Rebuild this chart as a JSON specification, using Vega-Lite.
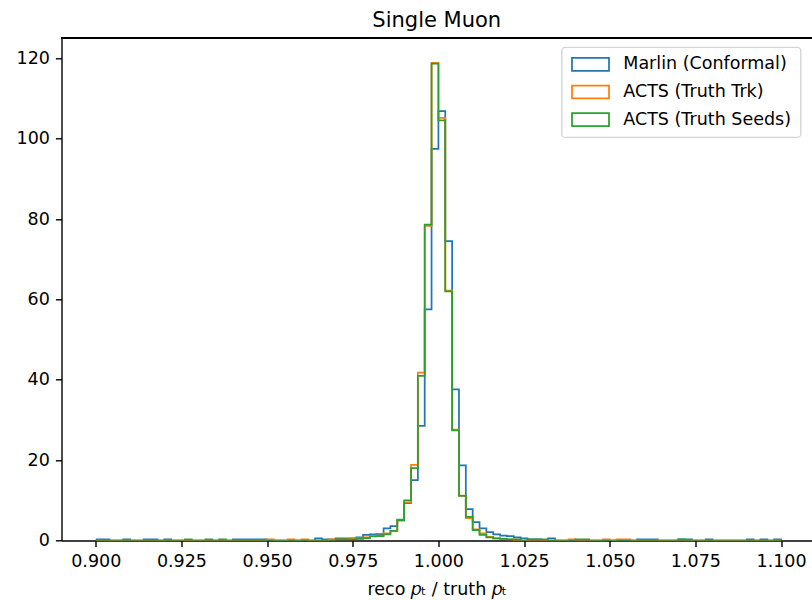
{
  "$schema": "https://vega.github.io/schema/vega-lite/v6.json",
  "width": 750.5,
  "height": 502.2,
  "autosize": {"type": "none"},
  "padding": {"left": 61.5, "top": 38.3, "right": 0, "bottom": 59.5},
  "background": "white",
  "title": {"text": "Single Muon", "font": "DejaVu Sans", "fontSize": 21, "fontWeight": "normal", "color": "black", "anchor": "middle", "baseline": "top", "offset": 7},
  "config": {
    "view": {"stroke": null},
    "axis": {"domainColor": "black", "domainWidth": 1.4, "tickColor": "black", "tickWidth": 1.4, "tickSize": 6.1, "labelFont": "DejaVu Sans", "labelFontSize": 17.5, "labelColor": "black", "titleFont": "DejaVu Sans", "titleFontSize": 17.5, "titleFontWeight": "normal", "titleColor": "black", "grid": false, "zindex": 1, "labelFlush": false, "labelOverlap": false},
    "legend": {"orient": "none", "legendX": 500.2, "legendY": 9, "title": null, "labelFont": "DejaVu Sans", "labelFontSize": 17.5, "labelColor": "black", "labelLimit": 400, "symbolType": "M-1,-0.35H1V0.35H-1Z", "symbolSize": 1369, "symbolStrokeWidth": 1.75, "symbolFillColor": "white", "padding": 9, "clipHeight": 16, "rowPadding": 9.7, "labelOffset": 13.3, "symbolOffset": 0.3, "strokeColor": "#d6d6d6", "strokeWidth": 1.4, "fillColor": "white", "cornerRadius": 3.5}
  },
  "data": {"values": [
    {"x": 0.900, "m": 0.25, "t": 0, "s": 0},
    {"x": 0.902, "m": 0.25, "t": 0, "s": 0},
    {"x": 0.904, "m": 0, "t": 0, "s": 0},
    {"x": 0.906, "m": 0, "t": 0, "s": 0},
    {"x": 0.908, "m": 0.25, "t": 0, "s": 0},
    {"x": 0.910, "m": 0, "t": 0, "s": 0},
    {"x": 0.912, "m": 0, "t": 0, "s": 0},
    {"x": 0.914, "m": 0.25, "t": 0, "s": 0},
    {"x": 0.916, "m": 0.25, "t": 0, "s": 0},
    {"x": 0.918, "m": 0, "t": 0, "s": 0},
    {"x": 0.920, "m": 0.25, "t": 0, "s": 0},
    {"x": 0.922, "m": 0, "t": 0, "s": 0},
    {"x": 0.924, "m": 0, "t": 0, "s": 0},
    {"x": 0.926, "m": 0, "t": 0, "s": 0.25},
    {"x": 0.928, "m": 0, "t": 0, "s": 0},
    {"x": 0.930, "m": 0, "t": 0, "s": 0},
    {"x": 0.932, "m": 0, "t": 0, "s": 0.25},
    {"x": 0.934, "m": 0, "t": 0, "s": 0},
    {"x": 0.936, "m": 0, "t": 0, "s": 0.25},
    {"x": 0.938, "m": 0, "t": 0, "s": 0},
    {"x": 0.940, "m": 0.25, "t": 0, "s": 0},
    {"x": 0.942, "m": 0.25, "t": 0, "s": 0},
    {"x": 0.944, "m": 0.25, "t": 0, "s": 0},
    {"x": 0.946, "m": 0.25, "t": 0, "s": 0},
    {"x": 0.948, "m": 0.25, "t": 0, "s": 0},
    {"x": 0.950, "m": 0, "t": 0.25, "s": 0},
    {"x": 0.952, "m": 0, "t": 0, "s": 0},
    {"x": 0.954, "m": 0, "t": 0, "s": 0},
    {"x": 0.956, "m": 0, "t": 0.25, "s": 0},
    {"x": 0.958, "m": 0, "t": 0, "s": 0},
    {"x": 0.960, "m": 0, "t": 0.25, "s": 0},
    {"x": 0.962, "m": 0, "t": 0, "s": 0},
    {"x": 0.964, "m": 0.5, "t": 0, "s": 0},
    {"x": 0.966, "m": 0.25, "t": 0, "s": 0},
    {"x": 0.968, "m": 0.25, "t": 0.25, "s": 0},
    {"x": 0.970, "m": 0.5, "t": 0.25, "s": 0.25},
    {"x": 0.972, "m": 0.5, "t": 0.25, "s": 0.25},
    {"x": 0.974, "m": 0.5, "t": 0.5, "s": 0.25},
    {"x": 0.976, "m": 0.8, "t": 0.5, "s": 0.4},
    {"x": 0.978, "m": 1.4, "t": 0.8, "s": 0.6},
    {"x": 0.980, "m": 1.5, "t": 1.1, "s": 1.0},
    {"x": 0.982, "m": 1.6, "t": 1.2, "s": 1.1},
    {"x": 0.984, "m": 3.0, "t": 1.8, "s": 1.5},
    {"x": 0.986, "m": 3.6, "t": 2.4, "s": 2.4},
    {"x": 0.988, "m": 5.2, "t": 5.0, "s": 5.0},
    {"x": 0.990, "m": 9.3, "t": 9.5, "s": 10.0},
    {"x": 0.992, "m": 15.0, "t": 18.8, "s": 18.0},
    {"x": 0.994, "m": 28.5, "t": 41.8, "s": 41.0},
    {"x": 0.996, "m": 57.5, "t": 78.3, "s": 78.6},
    {"x": 0.998, "m": 97.5, "t": 118.9, "s": 118.7},
    {"x": 1.000, "m": 106.9, "t": 105.2, "s": 104.6},
    {"x": 1.002, "m": 74.5, "t": 62.2, "s": 62.0},
    {"x": 1.004, "m": 37.6, "t": 27.6, "s": 27.4},
    {"x": 1.006, "m": 18.7, "t": 11.2, "s": 11.1},
    {"x": 1.008, "m": 7.8, "t": 5.6, "s": 5.9},
    {"x": 1.010, "m": 4.6, "t": 2.8, "s": 2.6},
    {"x": 1.012, "m": 3.0, "t": 1.8, "s": 1.4},
    {"x": 1.014, "m": 2.1, "t": 0.9, "s": 0.8},
    {"x": 1.016, "m": 1.5, "t": 0.5, "s": 0.5},
    {"x": 1.018, "m": 1.2, "t": 0.4, "s": 0.4},
    {"x": 1.020, "m": 1.1, "t": 0.25, "s": 0.25},
    {"x": 1.022, "m": 0.8, "t": 0, "s": 0.25},
    {"x": 1.024, "m": 0.5, "t": 0, "s": 0},
    {"x": 1.026, "m": 0.25, "t": 0, "s": 0.25},
    {"x": 1.028, "m": 0.25, "t": 0, "s": 0.25},
    {"x": 1.030, "m": 0, "t": 0, "s": 0.25},
    {"x": 1.032, "m": 0.5, "t": 0, "s": 0},
    {"x": 1.034, "m": 0, "t": 0, "s": 0},
    {"x": 1.036, "m": 0, "t": 0, "s": 0},
    {"x": 1.038, "m": 0, "t": 0.25, "s": 0},
    {"x": 1.040, "m": 0, "t": 0, "s": 0.25},
    {"x": 1.042, "m": 0, "t": 0, "s": 0.25},
    {"x": 1.044, "m": 0, "t": 0, "s": 0},
    {"x": 1.046, "m": 0, "t": 0, "s": 0},
    {"x": 1.048, "m": 0, "t": 0.25, "s": 0},
    {"x": 1.050, "m": 0, "t": 0, "s": 0},
    {"x": 1.052, "m": 0, "t": 0.25, "s": 0},
    {"x": 1.054, "m": 0, "t": 0.25, "s": 0},
    {"x": 1.056, "m": 0, "t": 0, "s": 0},
    {"x": 1.058, "m": 0.25, "t": 0, "s": 0},
    {"x": 1.060, "m": 0.25, "t": 0, "s": 0},
    {"x": 1.062, "m": 0.25, "t": 0, "s": 0},
    {"x": 1.064, "m": 0, "t": 0, "s": 0},
    {"x": 1.066, "m": 0, "t": 0, "s": 0},
    {"x": 1.068, "m": 0, "t": 0, "s": 0},
    {"x": 1.070, "m": 0.25, "t": 0, "s": 0.25},
    {"x": 1.072, "m": 0.25, "t": 0, "s": 0},
    {"x": 1.074, "m": 0, "t": 0, "s": 0},
    {"x": 1.076, "m": 0, "t": 0, "s": 0},
    {"x": 1.078, "m": 0.25, "t": 0, "s": 0},
    {"x": 1.080, "m": 0, "t": 0, "s": 0},
    {"x": 1.082, "m": 0, "t": 0, "s": 0},
    {"x": 1.084, "m": 0, "t": 0, "s": 0},
    {"x": 1.086, "m": 0, "t": 0, "s": 0},
    {"x": 1.088, "m": 0, "t": 0, "s": 0},
    {"x": 1.090, "m": 0.25, "t": 0, "s": 0},
    {"x": 1.092, "m": 0, "t": 0, "s": 0},
    {"x": 1.094, "m": 0.25, "t": 0, "s": 0},
    {"x": 1.096, "m": 0, "t": 0, "s": 0},
    {"x": 1.098, "m": 0.25, "t": 0, "s": 0},
    {"x": 1.100, "m": 0, "t": 0, "s": 0}
  ]},
  "layer": [
    {
      "mark": {"type": "line", "interpolate": "step-after", "strokeWidth": 1.75, "clip": true},
      "encoding": {
        "x": {"field": "x", "type": "quantitative", "scale": {"domain": [0.89, 1.10903], "nice": false, "zero": false},
              "axis": {"values": [0.9, 0.925, 0.95, 0.975, 1.0, 1.025, 1.05, 1.075, 1.1], "format": ".3f", "labelPadding": 5.5, "title": "reco 𝑝ₜ / truth 𝑝ₜ", "titlePadding": 25, "titleBaseline": "alphabetic"}},
        "y": {"field": "m", "type": "quantitative", "title": null, "scale": {"domain": [0, 125], "nice": false},
              "axis": {"values": [0, 20, 40, 60, 80, 100, 120], "labelPadding": 6}},
        "stroke": {"datum": "Marlin (Conformal)", "type": "nominal",
                   "scale": {"domain": ["Marlin (Conformal)", "ACTS (Truth Trk)", "ACTS (Truth Seeds)"], "range": ["#1f77b4", "#ff7f0e", "#2ca02c"]}}
      }
    },
    {
      "mark": {"type": "line", "interpolate": "step-after", "strokeWidth": 1.75, "clip": true},
      "encoding": {
        "x": {"field": "x", "type": "quantitative"},
        "y": {"field": "t", "type": "quantitative", "title": null},
        "stroke": {"datum": "ACTS (Truth Trk)", "type": "nominal"}
      }
    },
    {
      "mark": {"type": "line", "interpolate": "step-after", "strokeWidth": 1.75, "clip": true},
      "encoding": {
        "x": {"field": "x", "type": "quantitative"},
        "y": {"field": "s", "type": "quantitative", "title": null},
        "stroke": {"datum": "ACTS (Truth Seeds)", "type": "nominal"}
      }
    },
    {
      "mark": {"type": "rule", "color": "black", "strokeWidth": 1.4},
      "encoding": {"y": {"datum": 125}}
    }
  ]
}
